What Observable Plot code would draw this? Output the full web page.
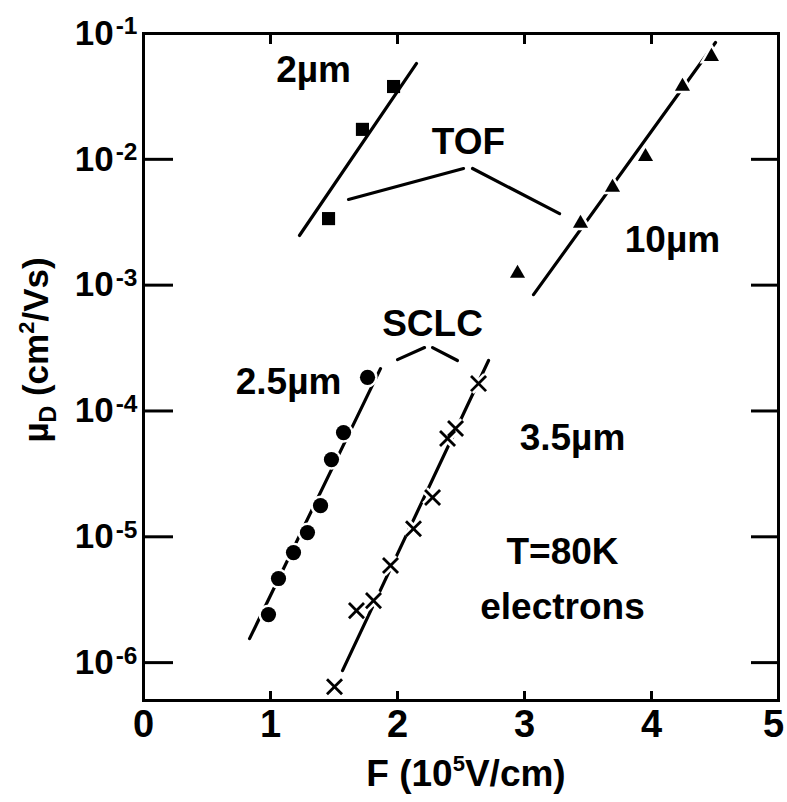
<!DOCTYPE html>
<html>
<head>
<meta charset="utf-8">
<script src="https://cdn.jsdelivr.net/npm/d3@7"></script>
<script src="https://cdn.jsdelivr.net/npm/@observablehq/plot@0.6"></script>
<style>
  html, body { margin: 0; padding: 0; background: white; }
  #chart svg { display: block; }
</style>
</head>
<body>
<div id="chart"></div>
<script>
// ---- data ----
// TOF, 2 µm sample (squares)
const tof2F  = [1.457, 1.724, 1.969];
const tof2Mu = [3.38e-3, 1.73e-2, 3.79e-2];
// TOF, 10 µm sample (triangles)
const tof10F  = [2.945, 3.441, 3.693, 3.953, 4.244, 4.472];
const tof10Mu = [1.24e-3, 3.09e-3, 5.97e-3, 1.05e-2, 3.79e-2, 6.56e-2];
// SCLC, 2.5 µm sample (circles)
const sclc25F  = [0.984, 1.063, 1.181, 1.291, 1.394, 1.480, 1.575, 1.764];
const sclc25Mu = [2.41e-6, 4.66e-6, 7.49e-6, 1.08e-5, 1.77e-5, 4.11e-5, 6.73e-5, 1.85e-4];
// SCLC, 3.5 µm sample (crosses)
const sclc35F  = [1.504, 1.677, 1.811, 1.945, 2.126, 2.276, 2.394, 2.457, 2.638];
const sclc35Mu = [6.44e-7, 2.59e-6, 3.11e-6, 5.91e-6, 1.16e-5, 2.05e-5, 6.04e-5, 7.25e-5, 1.65e-4];

// fitted lines (end points)
const fitId = ["2", "2", "10", "10", "2.5", "2.5", "3.5", "3.5"];
const fitF  = [1.228, 2.150, 3.071, 4.504, 0.835, 1.866, 1.567, 2.717];
const fitMu = [2.48e-3, 5.78e-2, 8.4e-4, 8.48e-2, 1.55e-6, 2.17e-4, 8.63e-7, 2.52e-4];

// bracket lines joining group labels to the curves
const legId = ["TOFa", "TOFa", "TOFb", "TOFb", "SCLCa", "SCLCa", "SCLCb", "SCLCb"];
const legF  = [1.614, 2.520, 2.591, 3.276, 2.000, 2.213, 2.276, 2.472];
const legMu = [4.8e-3, 8.45e-3, 8.45e-3, 3.7e-3, 2.56e-4, 3.19e-4, 3.19e-4, 2.52e-4];

// text annotations
const noteText = ["2µm", "TOF", "10µm", "SCLC", "2.5µm", "3.5µm", "T=80K", "electrons"];
const noteF    = [1.339, 2.559, 4.165, 2.276, 1.142, 3.378, 3.299, 3.299];
const noteMu   = [5.08e-2, 1.374e-2, 2.29e-3, 4.86e-4, 1.71e-4, 6.09e-5, 7.55e-6, 2.76e-6];

// axes
const xTicks = [0, 1, 2, 3, 4, 5];
const xTickText = ["0", "1", "2", "3", "4", "5"];
const yTicks = [1e-6, 1e-5, 1e-4, 1e-3, 1e-2, 1e-1];
const yTickText = ["10^-6", "10^-5", "10^-4", "10^-3", "10^-2", "10^-1"];
const xLabel = ["F (10", "5", "V/cm)"];
const yLabel = ["µ", "D", " (cm", "2", "/Vs)"];

// ---- build tables ----
const pts = (F, Mu) => F.map((f, i) => ({F: f, Mu: Mu[i]}));
const tof2 = pts(tof2F, tof2Mu);
const tof10 = pts(tof10F, tof10Mu);
const sclc25 = pts(sclc25F, sclc25Mu);
const sclc35 = pts(sclc35F, sclc35Mu);
const fits = fitF.map((f, i) => ({id: fitId[i], F: f, Mu: fitMu[i]}));
const legs = legF.map((f, i) => ({id: legId[i], F: f, Mu: legMu[i]}));
const notes = noteText.map((t, i) => ({t, F: noteF[i], Mu: noteMu[i]}));
const yLab = yTicks.map((v, i) => ({v, t: yTickText[i]}));
const xLab = xTicks.map((v, i) => ({v, t: xTickText[i]}));

const FONT = "'Liberation Sans', Arial, Helvetica, sans-serif";

const chart = Plot.plot({
  width: 787,
  height: 802,
  marginLeft: 143,
  marginRight: 9,
  marginTop: 33,
  marginBottom: 102,
  x: {domain: [0, 5]},
  y: {type: "log", domain: [5e-7, 1e-1]},
  style: {fontFamily: FONT, fontWeight: "bold", background: "white", color: "black"},
  marks: [
    // fitted lines
    Plot.line(fits, {x: "F", y: "Mu", z: "id", stroke: "black", strokeWidth: 3.2}),
    // bracket legs
    Plot.line(legs, {x: "F", y: "Mu", z: "id", stroke: "black", strokeWidth: 3.2}),
    // squares (TOF 2 µm)
    Plot.dot(tof2, {x: "F", y: "Mu", symbol: "square", r: 7.4, fill: "black", stroke: "none"}),
    // triangles (TOF 10 µm) with white halo
    Plot.dot(tof10, {x: "F", y: "Mu", symbol: "triangle", r: 5.6, fill: "black", stroke: "white", strokeWidth: 5, paintOrder: "stroke"}),
    // circles (SCLC 2.5 µm) with white halo
    Plot.dot(sclc25, {x: "F", y: "Mu", symbol: "circle", r: 7.6, fill: "black", stroke: "white", strokeWidth: 5, paintOrder: "stroke"}),
    // crosses (SCLC 3.5 µm): halo then cross
    Plot.dot(sclc35, {x: "F", y: "Mu", symbol: "times", r: 6.9, stroke: "white", strokeWidth: 8}),
    Plot.dot(sclc35, {x: "F", y: "Mu", symbol: "times", r: 6.9, stroke: "black", strokeWidth: 2.8}),
    // annotations
    Plot.text(notes, {x: "F", y: "Mu", text: "t", fontSize: 37, fontWeight: "bold", fill: "black", lineAnchor: "middle"}),
    // axis ticks (inward)
    Plot.axisY(yTicks, {anchor: "left", tickSize: -30, strokeWidth: 3, tickFormat: () => "", label: null}),
    Plot.axisY(yTicks, {anchor: "right", tickSize: -28, strokeWidth: 3, tickFormat: () => "", label: null}),
    Plot.axisX(xTicks, {anchor: "bottom", tickSize: -9, strokeWidth: 3, tickFormat: () => "", label: null}),
    Plot.axisX(xTicks, {anchor: "top", tickSize: -10, strokeWidth: 3, tickFormat: () => "", label: null}),
    // tick labels
    Plot.text(yLab, {y: "v", text: "t", frameAnchor: "left", textAnchor: "end", dx: -6, fontSize: 35, fontWeight: "bold", fill: "black", lineAnchor: "middle"}),
    Plot.text(xLab, {x: "v", text: "t", frameAnchor: "bottom", lineAnchor: "top", dy: 10, fontSize: 38, fontWeight: "bold", fill: "black"}),
    Plot.frame({stroke: "black", strokeWidth: 3})
  ]
});

document.getElementById("chart").appendChild(chart);

const svg = d3.select(chart);
// superscripts on y tick labels
svg.selectAll("text").each(function () {
  const t = this.textContent;
  if (t.indexOf("^") < 0) return;
  const parts = t.split("^");
  const sel = d3.select(this);
  sel.text(parts[0]);
  sel.append("tspan").attr("dx", 2).attr("dy", "-0.42em").attr("font-size", "0.7em").text(parts[1]);
});
// keep the last x tick label inside the picture
svg.selectAll("text").filter(function () { return this.textContent === "5" && !this.querySelector("tspan"); })
  .attr("dx", -5);

// axis titles with super/subscripts
const xl = svg.append("text")
  .attr("x", 466).attr("y", 786)
  .attr("text-anchor", "middle")
  .attr("font-size", 37).attr("font-weight", "bold").attr("font-family", FONT)
  .attr("fill", "black");
xl.append("tspan").text(xLabel[0]);
xl.append("tspan").attr("dy", -15).attr("font-size", 22).text(xLabel[1]);
xl.append("tspan").attr("dy", 15).text(xLabel[2]);

const yl = svg.append("text")
  .attr("transform", "translate(48,350) rotate(-90)")
  .attr("text-anchor", "middle")
  .attr("font-size", 35).attr("font-weight", "bold").attr("font-family", FONT)
  .attr("fill", "black");
yl.append("tspan").text(yLabel[0]);
yl.append("tspan").attr("dy", 8).attr("font-size", 23).text(yLabel[1]);
yl.append("tspan").attr("dy", -8).text(yLabel[2]);
yl.append("tspan").attr("dy", -14).attr("font-size", 22).text(yLabel[3]);
yl.append("tspan").attr("dy", 14).text(yLabel[4]);
</script>
</body>
</html>
